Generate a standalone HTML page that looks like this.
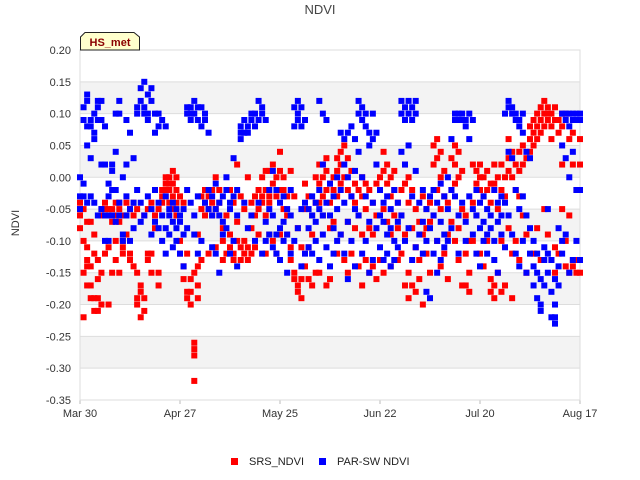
<!DOCTYPE html>
<html><head><meta charset="utf-8"><style>
body{margin:0;background:#fff;font-family:"Liberation Sans",sans-serif}
svg{display:block}
</style></head><body>
<svg width="640" height="480" xmlns="http://www.w3.org/2000/svg">
<rect width="640" height="480" fill="#fff"/>
<g id="bands"></g>
<g id="grid"></g>
<rect x="80" y="50" width="500" height="350" fill="none" stroke="#ddd"/>
<g id="marks"></g>
<g id="yt" font-size="11" fill="#333" text-anchor="end"></g>
<g id="xt" font-size="11" fill="#333" text-anchor="middle"></g>
<text x="320" y="14" font-size="13" fill="#444" text-anchor="middle">NDVI</text>
<text x="19" y="223" font-size="11" fill="#333" text-anchor="middle" transform="rotate(-90 19 223)">NDVI</text>
<g>
<path d="M80.5,50 L80.5,37 L85,32.5 L134,32.5 L139.5,37 L139.5,50 Z" fill="#ffffcc" stroke="#222"/>
<text x="110" y="46" font-size="11" font-weight="bold" fill="#8b0000" text-anchor="middle">HS_met</text>
</g>
<g>
<rect x="231" y="458" width="7" height="7" fill="#f00"/>
<text x="249" y="465" font-size="11" fill="#222">SRS_NDVI</text>
<rect x="319" y="458" width="7" height="7" fill="#00f"/>
<text x="337" y="465" font-size="11" fill="#222">PAR-SW NDVI</text>
</g>
</svg>
<script>
const yTicks=[0.2,0.15,0.1,0.05,0,-0.05,-0.1,-0.15,-0.2,-0.25,-0.3,-0.35];
const yTickLabels=["0.20","0.15","0.10","0.05","0.00","-0.05","-0.10","-0.15","-0.20","-0.25","-0.30","-0.35"];
const xTickDays=[0,28,56,84,112,140];
const xTickLabels=["Mar 30","Apr 27","May 25","Jun 22","Jul 20","Aug 17"];
const bandRanges=[[0.15,0.10],[0.05,0],[-0.05,-0.10],[-0.15,-0.20],[-0.25,-0.30]];
const srsVals=[
[-0.05,-0.06,-0.08,-0.04],[-0.05,-0.15,-0.22,-0.10],[-0.11,-0.13,-0.17,-0.14,-0.07],[-0.07,-0.14,-0.17,-0.19],[-0.09,-0.12,-0.19,-0.21],
[-0.16,-0.19,-0.21,-0.13],[-0.06,-0.05,-0.15,-0.2],[-0.05,-0.06,-0.04,-0.12],[-0.06,-0.11,-0.05,-0.2],[-0.05,-0.06,-0.07,-0.15],
[-0.04,-0.06,-0.13,-0.1],[-0.07,-0.05,-0.04,-0.15],[-0.1,-0.11,-0.12,-0.06],[-0.04,-0.09,-0.06],[-0.05,-0.13,-0.12],
[-0.04,-0.06,-0.14],[-0.19,-0.2,-0.15,-0.05],[-0.18,-0.22,-0.17],[-0.19,-0.21,-0.06],[-0.12,-0.13,-0.05],
[-0.12,-0.15,-0.04],[-0.06,-0.08],[-0.05,-0.15,-0.17],[-0.03,-0.02,-0.04],[-0.01,0.0,-0.03,-0.02],
[0.0,-0.02,-0.04,-0.01],[0.01,-0.01,-0.03,-0.05],[0.0,-0.02,-0.04,-0.06],[-0.03,-0.1,-0.12],[-0.16,-0.14,-0.04],
[-0.19,-0.18,-0.12],[-0.18,-0.2,-0.16],[-0.26,-0.27,-0.28,-0.32,-0.15],[-0.17,-0.19,-0.14,-0.09],[-0.13,-0.05,-0.03],
[-0.04,-0.06,-0.02],[-0.05,-0.03,-0.12],[-0.06,-0.04,-0.02],[-0.11,-0.05,0.0],[-0.02,-0.04],
[-0.1,-0.08,-0.13],[-0.12,-0.06],[-0.09,-0.11,-0.02],[-0.12,-0.04,-0.13],[-0.07,-0.1,0.02],
[-0.13,-0.11,-0.03],[-0.1,-0.12,-0.05],[-0.11,-0.13,0.0],[-0.12,-0.08,-0.04],[-0.06,-0.03,-0.11],
[-0.09,-0.05,-0.02],[-0.03,0.0,-0.04],[-0.02,0.01,-0.06,-0.12],[-0.04,-0.03,0.01,-0.09],[0.02,-0.01,-0.1],
[-0.03,0.0,-0.12],[0.01,-0.02,0.04,-0.09],[-0.02,0.0,-0.05],[-0.06,-0.09,-0.03],[-0.13,-0.11,0.01],
[-0.16,-0.15,-0.03],[-0.17,-0.18,-0.08],[-0.16,-0.19,-0.11],[-0.14,-0.05,-0.01],[-0.11,-0.16,-0.03],
[-0.06,-0.09,-0.17],[-0.15,-0.04,0.0],[0.02,-0.01,-0.04,-0.15],[0.02,0.0,-0.03,-0.06],[0.03,0.01,-0.02,-0.17],
[-0.01,-0.04,-0.08,-0.16],[0.0,-0.02,-0.07],[0.03,0.01,-0.03,-0.12],[0.04,0.02,-0.01,-0.09],[0.05,0.0,-0.13],
[0.03,-0.02,-0.07,-0.15],[0.01,-0.03,-0.12],[-0.01,-0.04,-0.08],[-0.02,-0.06,-0.14],[0.0,-0.03,-0.09,-0.17],
[-0.01,-0.05,-0.13],[-0.02,-0.08,-0.15],[-0.04,-0.09,-0.14],[-0.01,-0.06,-0.16],[0.0,-0.02,-0.13],
[0.04,0.01,-0.05,-0.15],[0.02,-0.01,-0.07],[0.0,-0.03,-0.09,-0.14],[0.01,-0.02,-0.06],[-0.04,-0.08,-0.13],
[-0.02,-0.06,-0.12],[0.02,-0.01,-0.09,-0.17],[0.0,-0.04,-0.15,-0.19],[-0.02,-0.08,-0.17],[-0.05,-0.11,-0.18],
[-0.07,-0.13,-0.16],[-0.03,-0.09,-0.2],[-0.05,-0.08,-0.12],[-0.04,-0.07,-0.15],[0.05,0.02,-0.06],
[0.06,0.03,-0.02,-0.1],[0.04,0.0,-0.05,-0.14],[0.01,-0.03,-0.12],[-0.04,-0.09,-0.16],[0.03,-0.02,-0.07],
[0.05,0.02,-0.01,-0.1],[0.04,0.0,-0.08,-0.13],[0.01,-0.05,-0.17],[-0.06,-0.12,-0.17],[-0.1,-0.15,-0.18],
[0.02,-0.04,-0.1],[0.01,-0.01,-0.06],[0.02,0.0,-0.02,-0.12],[0.0,-0.03,-0.14],[0.01,-0.02,-0.1],
[-0.01,-0.04,-0.16,-0.18],[0.02,-0.01,-0.17,-0.19],[0.0,-0.05,-0.15],[0.02,-0.02,-0.1,-0.18],[0.0,-0.03,-0.17],
[0.06,0.03,0.01,-0.08],[0.04,0.0,-0.12,-0.19],[0.02,-0.02,-0.1],[0.04,0.01,-0.03,-0.13],[0.05,0.02,-0.06],
[0.03,-0.09,-0.15],[0.06,0.08,0.04],[0.09,0.07,0.05,-0.12],[0.1,0.08,0.06,-0.08],[0.11,0.09,0.07,-0.13],
[0.12,0.1,0.08,-0.05],[0.11,0.1,0.09,-0.09],[0.1,0.08,0.06,-0.13],[0.11,0.09,-0.11,-0.15],[0.09,0.07,-0.12],
[0.1,0.08,0.02,-0.05],[0.1,-0.1,-0.14],[0.06,-0.06,-0.15],[0.07,0.02,-0.14,-0.13],[-0.02,-0.13,-0.15],
[0.06,0.02,-0.15]];
const parVals=[
[0.0,-0.03,-0.05],[0.09,0.11,-0.01,-0.03],[0.13,0.12,0.08,0.05,-0.04],[0.09,0.08,0.03,-0.03],[0.1,0.07,0.06,-0.04],
[0.12,0.11,0.09,-0.06],[0.09,0.12,0.02,-0.05],[0.08,0.02,-0.06,-0.1],[-0.01,-0.03,-0.06,-0.1],[0.02,-0.02,-0.06,0.01],
[0.04,0.1,-0.02,-0.07],[0.1,0.12,-0.06,-0.04],[0.0,-0.09,-0.1],[0.09,0.02,-0.03,-0.06],[0.07,-0.05,-0.1],
[0.03,-0.04,-0.08],[0.1,0.11,-0.02],[0.14,0.12,-0.04,-0.07],[0.15,0.11,0.1,-0.06],[0.13,0.1,0.09,-0.03],
[0.14,0.12,-0.05,-0.09],[0.1,0.07,-0.02,-0.07],[0.1,0.08,-0.04,-0.08],[0.09,-0.06,-0.1],[0.08,-0.03,-0.08,-0.12],
[-0.06,-0.09,-0.05],[-0.04,-0.07,-0.11],[-0.05,-0.08,-0.1],[-0.07,-0.06,-0.12],[-0.05,-0.09,-0.14],
[0.11,0.1,-0.02,-0.08],[0.11,0.1,0.09,-0.04],[0.12,0.1,-0.06,-0.09],[0.11,0.09,-0.03,-0.12],[0.08,0.11,-0.1],
[0.1,0.09,-0.04],[0.07,-0.02,-0.05],[-0.03,-0.06,-0.11],[-0.01,-0.05,-0.12],[-0.04,-0.06,-0.15],
[-0.03,-0.07,-0.09],[-0.02,0.0,-0.08],[-0.05,-0.04,-0.12],[0.03,-0.03,-0.1],[-0.02,-0.06,-0.14],
[0.06,0.08,0.07],[0.07,0.09,-0.04],[0.08,0.07,-0.08],[0.09,0.1,-0.06],[0.08,0.1,-0.1],
[0.09,0.12,-0.04],[0.11,0.1,-0.12],[0.09,-0.07,-0.1],[-0.02,-0.05,-0.09],[0.01,-0.06,-0.11],
[-0.02,-0.09,-0.12],[-0.04,-0.08,-0.13],[-0.03,-0.07,-0.1],[-0.05,-0.09,-0.15],[-0.02,-0.06,-0.12],
[0.08,0.11,-0.1],[0.1,0.12,0.09,-0.08],[0.11,0.08,-0.05,-0.14],[0.09,-0.04,-0.12],[-0.05,-0.08,-0.11],
[-0.03,-0.06,-0.12],[-0.04,-0.07,-0.1],[0.12,-0.02,-0.05,-0.13],[0.1,0.02,-0.06,-0.09],[0.09,-0.04,-0.11],
[-0.01,-0.06,-0.14],[-0.03,-0.08,-0.12],[0.0,-0.05,-0.1],[0.07,-0.02,-0.09],[0.06,0.02,-0.04,-0.12],
[0.07,0.0,-0.07,-0.16],[0.08,-0.03,-0.1],[0.06,0.01,-0.05,-0.14],[0.1,0.12,0.04,-0.06],[0.11,0.09,0.0,-0.12],
[0.1,0.08,-0.03,-0.1],[0.07,0.05,-0.07,-0.15],[0.1,0.06,-0.04,-0.13],[0.07,0.02,-0.08],[-0.02,-0.06,-0.11],
[-0.04,-0.07,-0.13],[-0.03,-0.09,-0.12],[-0.05,-0.08,-0.14],[-0.02,-0.1,-0.13],[-0.04,-0.07,-0.11],
[0.1,0.12,0.04,-0.06],[0.11,0.09,0.02,-0.1],[0.12,0.1,0.05,-0.08],[0.11,0.09,-0.03,-0.13],[0.12,0.1,0.01,-0.11],
[-0.04,-0.09],[-0.02,-0.07,-0.12],[-0.05,-0.1,-0.18],[-0.03,-0.08,-0.19],[-0.02,-0.06,-0.12],
[-0.04,-0.1,-0.15],[-0.01,-0.07,-0.13],[-0.03,-0.09,-0.11],[0.0,-0.05,-0.1],[0.06,-0.02,-0.08],
[0.1,0.09,-0.03],[0.09,0.1,-0.06,-0.12],[0.1,0.09,-0.04],[0.09,0.08,-0.07,-0.1],[0.1,0.06,-0.03],
[0.09,-0.05,-0.09],[-0.02,-0.06,-0.12],[-0.04,-0.08,-0.14],[-0.03,-0.07,-0.1],[-0.05,-0.09,-0.12],
[-0.06,-0.08],[-0.02,-0.1,-0.13],[-0.04,-0.07,-0.15],[-0.03,-0.06,-0.09],[0.1,-0.04,-0.11],
[0.12,0.11,0.04,-0.06],[0.11,0.1,0.03,-0.09],[0.1,0.09,-0.02,-0.12],[0.09,0.08,-0.05,-0.14],[0.1,0.07,-0.03,-0.1],
[0.04,-0.06,-0.15],[0.03,-0.08,-0.12],[-0.1,-0.14,-0.17],[-0.12,-0.15,-0.19],[-0.16,-0.2,-0.21],
[-0.11,-0.17,-0.13],[-0.05,-0.12,-0.15],[-0.13,-0.18,-0.22],[-0.16,-0.2,-0.23,-0.22],[-0.14,-0.17,-0.08],
[0.1,0.05,-0.12,-0.1],[0.1,0.09,0.03,-0.09],[0.1,0.08,0.0,-0.15],[0.09,0.1,0.04,-0.13],[0.1,0.09,-0.02,-0.1],
[0.1,0.09,-0.02,-0.13]];

const NS="http://www.w3.org/2000/svg";
const X0=80,X1=580,DAYS=140,Y0=50,Y1=400,VMAX=0.2,VMIN=-0.35;
function xs(d){return X0+(d/DAYS)*(X1-X0);}
function ys(v){return Y0+(VMAX-v)/(VMAX-VMIN)*(Y1-Y0);}
function mk(tag,attrs,parent){const e=document.createElementNS(NS,tag);for(const k in attrs)e.setAttribute(k,attrs[k]);parent.appendChild(e);return e;}

const bands=document.getElementById('bands');
bandRanges.forEach(b=>{
  const r=mk('rect',{x:X0,y:ys(b[0]),width:X1-X0,height:ys(b[1])-ys(b[0]),fill:'#f3f3f3'},bands);
  
  
});
const grid=document.getElementById('grid');
const yt=document.getElementById('yt');
yTicks.forEach((v,i)=>{
  const y=ys(v);
  const l=mk('line',{x1:X0,x2:X1,y1:y,y2:y,stroke:'#ddd'},grid);
  
  
  const t=mk('text',{x:71,y:y+4},yt);t.textContent=yTickLabels[i];
  
  
});
const xt=document.getElementById('xt');
xTickDays.forEach((d,i)=>{
  const x=xs(d);
  const l=mk('line',{x1:x,x2:x,y1:Y1,y2:Y1+4,stroke:'#bbb'},grid);
  
  
  const t=mk('text',{x:x,y:417},xt);t.textContent=xTickLabels[i];
  
  
});
const marks=document.getElementById('marks');
function drawSeries(vals,color,name){
  vals.forEach((list,d)=>{
    list.forEach(v=>{
      const r=mk('rect',{x:xs(d)-3,y:ys(v)-3,width:6,height:6,fill:color},marks);
      
      
    });
  });
}
drawSeries(srsVals,'#ff0000','srs-ndvi-point');
drawSeries(parVals,'#0000ff','par-sw-ndvi-point');
</script>
</body></html>
